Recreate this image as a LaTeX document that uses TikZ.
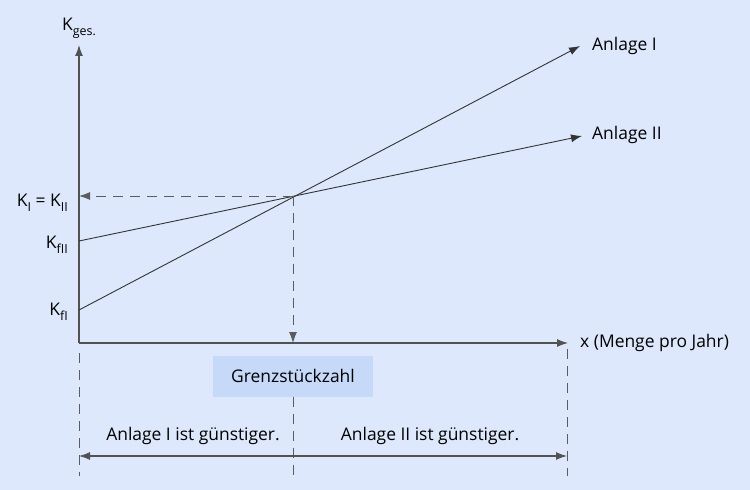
\documentclass[tikz,border=0pt]{standalone}
\usepackage{fontspec}
\setmainfont{Open Sans}
\usetikzlibrary{arrows.meta}
\usetikzlibrary{positioning}
\definecolor{bgblue}{HTML}{DDE8FD}
\definecolor{boxblue}{HTML}{C6D9F8}
\definecolor{linegray}{HTML}{333333}
\newcommand{\ksub}[1]{K\raisebox{-0.5ex}{\fontsize{12.5}{12.5}\selectfont #1}}

\begin{document}
\begin{tikzpicture}[x=1bp, y=-1bp,
  font=\fontsize{17.5}{19}\selectfont,
  axis/.style={draw=linegray!85, line width=1.1bp, -{Latex[length=11bp,width=8bp]}},
  curve/.style={draw=linegray, line width=0.9bp, -{Latex[length=11bp,width=8bp]}},
  guide/.style={draw=linegray!80, line width=0.9bp, dash pattern=on 10bp off 7bp},
  lbl/.style={inner sep=0pt, text=black}]
\fill[bgblue] (0,0) rectangle (750,490);
\useasboundingbox (0,0) rectangle (750,490);
% axes
\coordinate (O) at (79,343);
\coordinate (ytop) at (79,45);
\coordinate (xend) at (568,343);
\coordinate (S) at (293,196);
\coordinate (fI) at (79,310);
\coordinate (fII) at (79,241);
\coordinate (aI) at (580,46);
\coordinate (aII) at (582,136);
\coordinate (kS) at (79,196);
\coordinate (xS) at (293,343);
\draw[axis] (O) -- (ytop);
\draw[axis] (O) -- (xend);
% Kostengeraden
\draw[curve] (fI) -- (aI);
\draw[curve] (fII) -- (aII);
\draw[guide, -{Latex[length=11bp,width=8bp]}] (S) -- (kS);
\draw[guide, -{Latex[length=11bp,width=8bp]}] (S) -- (xS);
% labels
\node[lbl] (kges) at (79,28) {\ksub{ges.}};
\node[lbl, anchor=east] (kgl) at (68,203) {\ksub{I} = \ksub{II}};
\node[lbl, anchor=east] (kfII) at (68,245) {\ksub{fII}};
\node[lbl, anchor=east] (kfI) at (68,312) {\ksub{fI}};
\node[lbl, anchor=west] (lI) at (592,46) {Anlage I};
\node[lbl, anchor=west] (lII) at (592,135) {Anlage II};
\node[lbl, anchor=west] (lx) at (580,343) {x (Menge pro Jahr)};
\node[fill=boxblue, minimum width=160bp, minimum height=41bp] (grenz) at (293,376) {Grenzstückzahl};
% Bereiche
\coordinate (l1) at (79,353);
\coordinate (l2) at (79,476);
\coordinate (m2) at (293,476);
\coordinate (r1) at (567,349);
\coordinate (r2) at (567,476);
\coordinate (bl) at (79,456);
\coordinate (br) at (567,456);
\draw[guide] (l1) -- (l2);
\draw[guide] (grenz.south) -- (m2);
\draw[guide] (r1) -- (r2);
\draw[axis, {Latex[length=11bp,width=8bp]}-{Latex[length=11bp,width=8bp]}] (bl) -- (br);
\node[lbl] (gI) at (193,436) {Anlage I ist günstiger.};
\node[lbl] (gII) at (430,436) {Anlage II ist günstiger.};
\end{tikzpicture}
\end{document}
